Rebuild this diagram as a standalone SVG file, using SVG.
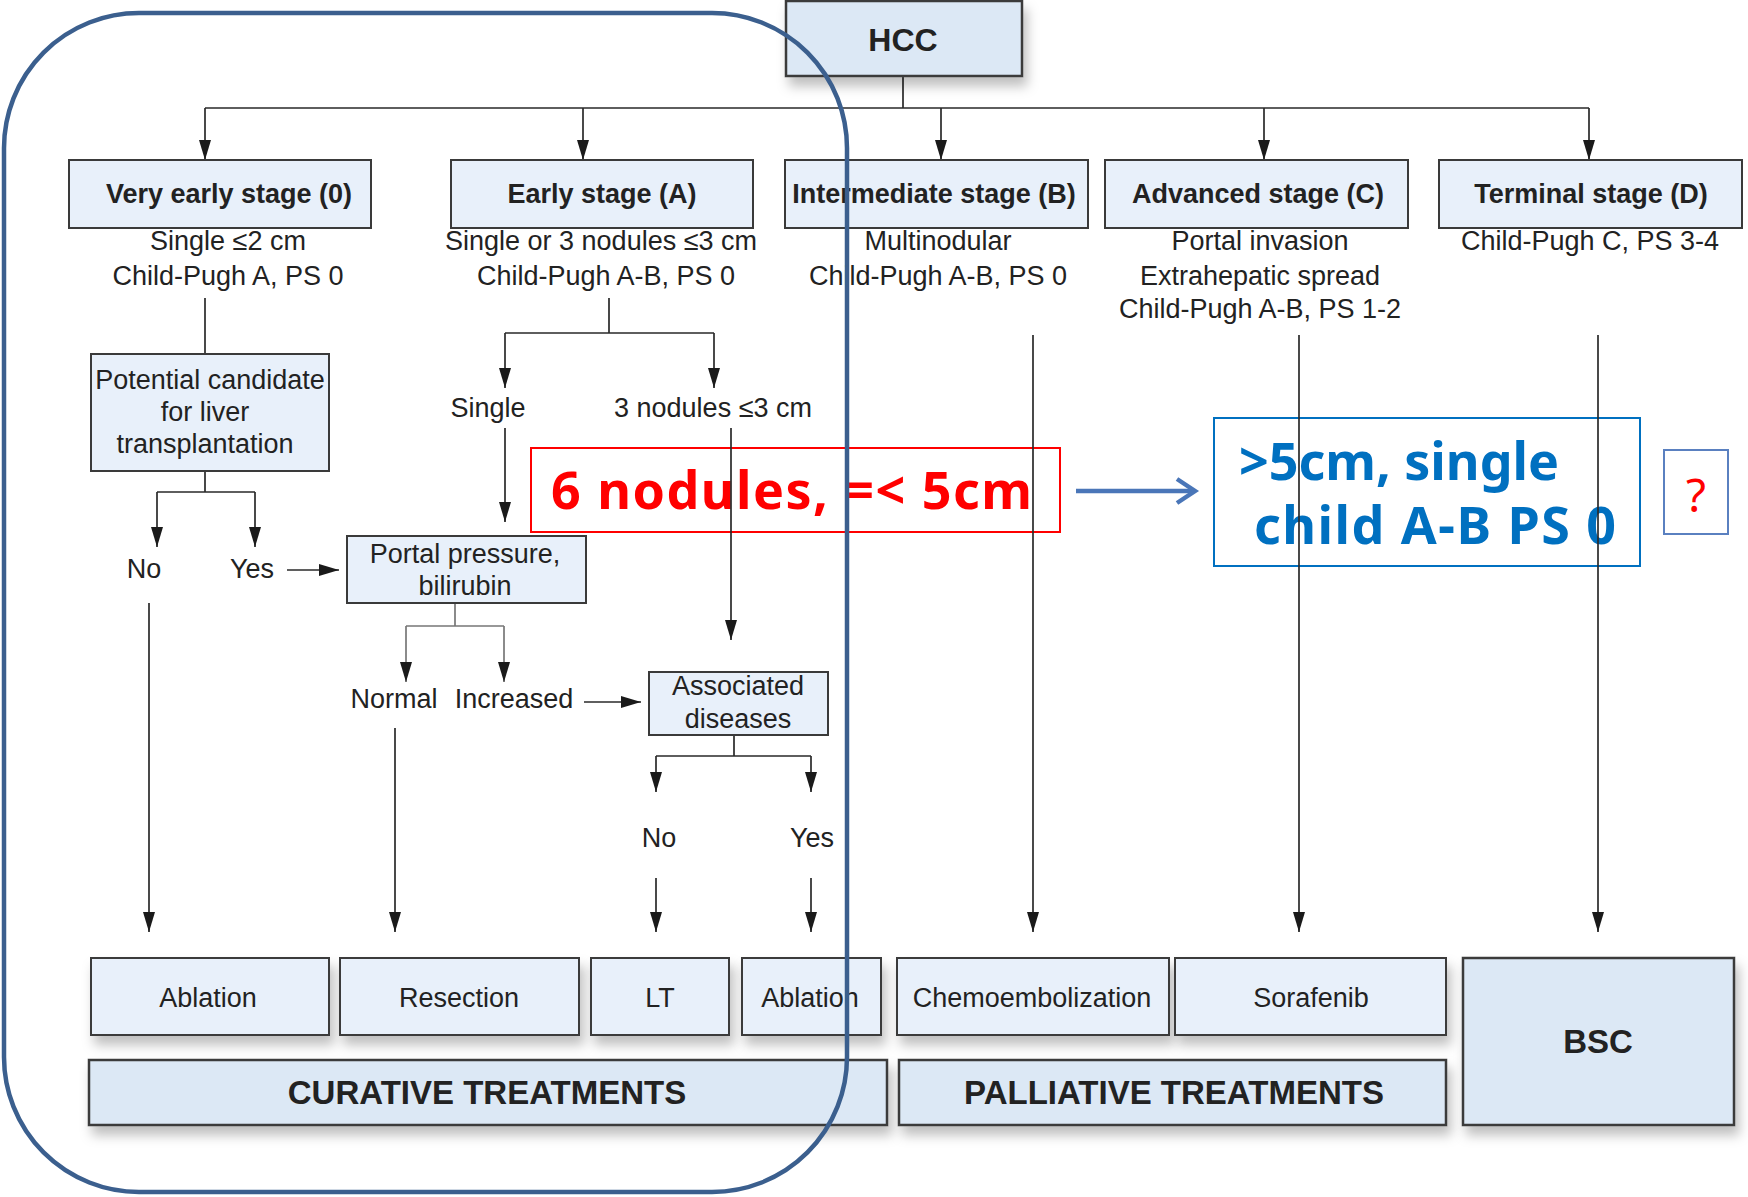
<svg xmlns="http://www.w3.org/2000/svg" width="1748" height="1197" viewBox="0 0 1748 1197">
<style>
.box{fill:#E8F0FA;stroke:#3a3a3a;stroke-width:2}
.dbox{fill:#DCE8F5;stroke:#3a3a3a;stroke-width:2.5}
.t{font-family:"Liberation Sans",Arial,sans-serif;font-size:27px;fill:#222;text-anchor:middle}
.tb{font-family:"Liberation Sans",Arial,sans-serif;font-size:27px;font-weight:bold;fill:#222;text-anchor:middle}
.tbb{font-family:"Liberation Sans",Arial,sans-serif;font-size:33px;font-weight:bold;fill:#222;text-anchor:middle}
.ln{stroke:#2a2a2a;stroke-width:1.7;fill:none}
.gl{stroke:#777;stroke-width:1.7;fill:none}
.ar{stroke:#2a2a2a;stroke-width:1.7;fill:none;marker-end:url(#ah)}
.gar{stroke:#777;stroke-width:1.7;fill:none;marker-end:url(#ah)}
.ann{font-family:"Noto Sans","Liberation Sans",sans-serif;font-size:52px;font-weight:bold}
</style>
<defs>
<marker id="ah" markerUnits="userSpaceOnUse" markerWidth="20" markerHeight="12" refX="20" refY="6" orient="auto">
<path d="M0,0 L20,6 L0,12 z" fill="#1a1a1a"/>
</marker>
<filter id="sh" x="-10%" y="-10%" width="130%" height="150%">
<feDropShadow dx="4" dy="9" stdDeviation="6" flood-color="#000" flood-opacity="0.25"/>
</filter>
</defs>
<rect width="1748" height="1197" fill="#fff"/>

<g id="annotations">
<rect x="531" y="448" width="529" height="84" fill="none" stroke="#FF0000" stroke-width="2"/>
<text class="ann" x="551" y="509" fill="#FF0000" textLength="481" lengthAdjust="spacing">6 nodules, =&lt; 5cm</text>
<rect x="1214" y="418" width="426" height="148" fill="none" stroke="#0070C0" stroke-width="2"/>
<text class="ann" x="1239" y="480" fill="#0070C0" textLength="320" lengthAdjust="spacing">&gt;5cm, single</text>
<text class="ann" x="1254" y="544" fill="#0070C0" textLength="362" lengthAdjust="spacing">child A-B PS 0</text>
<rect x="1664" y="450" width="64" height="84" fill="none" stroke="#5A80C0" stroke-width="2"/>
<text x="1696" y="512" font-family="Noto Sans,Liberation Sans,sans-serif" font-size="46" fill="#FF0000" text-anchor="middle">?</text>
<path d="M1076,491 H1193" stroke="#4A76B8" stroke-width="4.5" fill="none"/>
<polyline points="1177,479 1195,491 1177,503" stroke="#4A76B8" stroke-width="4.5" fill="none"/>
</g>

<g id="connectors">
<path class="ln" d="M903,76 V108 M205,108 H1589"/>
<path class="ar" d="M205,108 V160"/>
<path class="ar" d="M583,108 V160"/>
<path class="ar" d="M941,108 V160"/>
<path class="ar" d="M1264,108 V160"/>
<path class="ar" d="M1589,108 V160"/>
<path class="ln" d="M205,298 V354"/>
<path class="ln" d="M205,471 V492 M157,492 H255"/>
<path class="ar" d="M157,492 V547"/>
<path class="ar" d="M255,492 V547"/>
<path class="ar" d="M287,570 H339"/>
<path class="ln" d="M609,298 V333 M505,333 H714"/>
<path class="ar" d="M505,333 V388"/>
<path class="ar" d="M714,333 V388"/>
<path class="ar" d="M505,428 V522"/>
<path class="ar" d="M731,428 V640"/>
<path class="gl" d="M455,603 V626 M406,626 H504"/>
<path class="gar" d="M406,626 V682"/>
<path class="gar" d="M504,626 V682"/>
<path class="ar" d="M584,702 H641"/>
<path class="ln" d="M734,735 V756 M656,756 H811"/>
<path class="ar" d="M656,756 V792"/>
<path class="ar" d="M811,756 V792"/>
<path class="ar" d="M656,878 V932"/>
<path class="ar" d="M811,878 V932"/>
<path class="ar" d="M149,603 V932"/>
<path class="ar" d="M395,728 V932"/>
<path class="ar" d="M1033,335 V932"/>
<path class="ar" d="M1299,335 V932"/>
<path class="ar" d="M1598,335 V932"/>
</g>

<g id="hcc"><rect class="dbox" x="786" y="1" width="236" height="75" filter="url(#sh)"/><text class="tb" x="903" y="51" style="font-size:32px">HCC</text></g>

<g id="stage0"><rect class="box" x="69" y="160" width="302" height="68"/><text class="tb" x="229" y="203">Very early stage (0)</text>
<text class="t" x="228" y="250">Single ≤2 cm</text><text class="t" x="228" y="285">Child-Pugh A, PS 0</text></g>
<g id="stageA"><rect class="box" x="451" y="160" width="302" height="68"/><text class="tb" x="602" y="203">Early stage (A)</text>
<text class="t" x="601" y="250">Single or 3 nodules ≤3 cm</text><text class="t" x="606" y="285">Child-Pugh A-B, PS 0</text></g>
<g id="stageB"><rect class="box" x="785" y="160" width="303" height="68"/><text class="tb" x="934" y="203">Intermediate stage (B)</text>
<text class="t" x="938" y="250">Multinodular</text><text class="t" x="938" y="285">Child-Pugh A-B, PS 0</text></g>
<g id="stageC"><rect class="box" x="1105" y="160" width="303" height="68"/><text class="tb" x="1258" y="203">Advanced stage (C)</text>
<text class="t" x="1260" y="250">Portal invasion</text><text class="t" x="1260" y="285">Extrahepatic spread</text><text class="t" x="1260" y="318">Child-Pugh A-B, PS 1-2</text></g>
<g id="stageD"><rect class="box" x="1439" y="160" width="303" height="68"/><text class="tb" x="1591" y="203">Terminal stage (D)</text>
<text class="t" x="1590" y="250">Child-Pugh C, PS 3-4</text></g>

<g id="candidate"><rect class="box" x="91" y="354" width="238" height="117"/><text class="t" x="210" y="389">Potential candidate</text><text class="t" x="205" y="421">for liver</text><text class="t" x="205" y="453">transplantation</text></g>
<g id="lbl-no1"><text class="t" x="144" y="578">No</text></g>
<g id="lbl-yes1"><text class="t" x="252" y="578">Yes</text></g>
<g id="lbl-single"><text class="t" x="488" y="417">Single</text></g>
<g id="lbl-3nod"><text class="t" x="713" y="417">3 nodules ≤3 cm</text></g>
<g id="portal"><rect class="box" x="347" y="536" width="239" height="67"/><text class="t" x="465" y="563">Portal pressure,</text><text class="t" x="465" y="595">bilirubin</text></g>
<g id="lbl-normal"><text class="t" x="394" y="708">Normal</text></g>
<g id="lbl-increased"><text class="t" x="514" y="708">Increased</text></g>
<g id="assoc"><rect class="box" x="649" y="672" width="179" height="63"/><text class="t" x="738" y="695">Associated</text><text class="t" x="738" y="728">diseases</text></g>
<g id="lbl-no2"><text class="t" x="659" y="847">No</text></g>
<g id="lbl-yes2"><text class="t" x="812" y="847">Yes</text></g>

<g id="t-ablation1"><rect class="box" x="91" y="958" width="238" height="77" filter="url(#sh)"/><text class="t" x="208" y="1007">Ablation</text></g>
<g id="t-resection"><rect class="box" x="340" y="958" width="239" height="77" filter="url(#sh)"/><text class="t" x="459" y="1007">Resection</text></g>
<g id="t-lt"><rect class="box" x="591" y="958" width="138" height="77" filter="url(#sh)"/><text class="t" x="660" y="1007">LT</text></g>
<g id="t-ablation2"><rect class="box" x="742" y="958" width="139" height="77" filter="url(#sh)"/><text class="t" x="810" y="1007">Ablation</text></g>
<g id="t-chemo"><rect class="box" x="897" y="958" width="272" height="77" filter="url(#sh)"/><text class="t" x="1032" y="1007">Chemoembolization</text></g>
<g id="t-sorafenib"><rect class="box" x="1175" y="958" width="271" height="77" filter="url(#sh)"/><text class="t" x="1311" y="1007">Sorafenib</text></g>
<g id="curative"><rect class="dbox" x="89" y="1060" width="798" height="65" filter="url(#sh)"/><text class="tbb" x="487" y="1104">CURATIVE TREATMENTS</text></g>
<g id="palliative"><rect class="dbox" x="899" y="1060" width="547" height="65" filter="url(#sh)"/><text class="tbb" x="1174" y="1104">PALLIATIVE TREATMENTS</text></g>
<g id="bsc"><rect class="dbox" x="1463" y="958" width="271" height="167" filter="url(#sh)"/><text class="tbb" x="1598" y="1053">BSC</text></g>

<g id="curative-outline"><rect x="4" y="13" width="843" height="1179" rx="135" ry="135" fill="none" stroke="#3B5F8E" stroke-width="4.5"/></g>
</svg>
